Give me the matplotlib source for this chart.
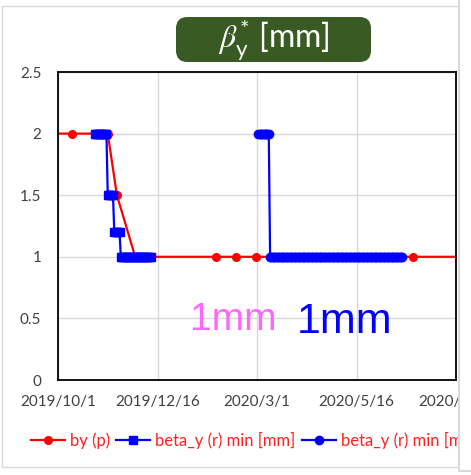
import matplotlib
matplotlib.use('Agg')
import matplotlib.pyplot as plt
from matplotlib.patches import FancyBboxPatch, Rectangle
from matplotlib.lines import Line2D
import pandas as pd

# by (p): planned beta* points
p_dates = ['2019-09-20', '2019-10-12', '2019-11-08', '2019-11-15', '2019-11-29',
           '2020-01-30', '2020-02-14', '2020-02-29', '2020-06-28', '2020-08-10']
p_values = [2, 2, 2, 1.5, 1, 1, 1, 1, 1, 1]

# beta_y (r) min, first run: daily values held constant between start/end dates
r1_starts = ['2019-10-29', '2019-11-08', '2019-11-13', '2019-11-18']
r1_ends = ['2019-11-07', '2019-11-12', '2019-11-17', '2019-12-11']
r1_levels = [2, 1.5, 1.2, 1]

# beta_y (r) min, second run
r2_starts = ['2020-03-02', '2020-03-11']
r2_ends = ['2020-03-10', '2020-06-20']
r2_levels = [2, 1]

tick_dates = ['2019-10-01', '2019-12-16', '2020-03-01', '2020-05-16', '2020-07-31']
tick_labels = ['2019/10/1', '2019/12/16', '2020/3/1', '2020/5/16', '2020/7/31']
y_ticks = [0, 0.5, 1, 1.5, 2, 2.5]
y_labels = ['0', '0.5', '1', '1.5', '2', '2.5']


def daily(starts, ends, levels):
    dates, vals = [], []
    for s, e, v in zip(starts, ends, levels):
        d = pd.date_range(s, e, freq='D')
        dates.extend(d)
        vals.extend([v] * len(d))
    return dates, vals


plt.rcParams['font.family'] = ['Lato', 'DejaVu Sans']
plt.rcParams['mathtext.fontset'] = 'custom'
plt.rcParams['mathtext.it'] = 'STIXGeneral:italic'
plt.rcParams['mathtext.rm'] = 'Lato'
plt.rcParams['mathtext.sf'] = 'Lato'

W, H = 471, 475
fig = plt.figure(figsize=(W / 100, H / 100), dpi=100)
ax = fig.add_axes([58 / W, 1 - 380 / H, 398 / W, 308 / H])

ax.plot(pd.to_datetime(p_dates), p_values, color='#FF0000', lw=1.6,
        marker='o', ms=5.5, label='by (p)', zorder=3)
d1, v1 = daily(r1_starts, r1_ends, r1_levels)
ax.plot(d1, v1, color='#0000FF', lw=1.6, marker='s', ms=6,
        label='beta_y (r) min [mm]', zorder=4)
d2, v2 = daily(r2_starts, r2_ends, r2_levels)
ax.plot(d2, v2, color='#0000FF', lw=1.6, marker='o', ms=6,
        label='beta_y (r) min [mm]', zorder=5)

ax.set_xlim(pd.Timestamp(tick_dates[0]), pd.Timestamp(tick_dates[-1]))
ax.set_ylim(0, 2.5)
ax.set_xticks(pd.to_datetime(tick_dates))
ax.set_xticklabels(tick_labels)
ax.set_yticks(y_ticks)
ax.set_yticklabels(y_labels)
ax.tick_params(axis='both', length=0, labelsize=11, labelcolor='#404040')
ax.tick_params(axis='y', pad=12)
ax.tick_params(axis='x', pad=11)
ax.grid(True, color='#D9D9D9', lw=1)
ax.set_axisbelow(True)
for sp in ax.spines.values():
    sp.set_color('black')
    sp.set_linewidth(1.3)
    sp.set_zorder(6)

ax.text(0.44, 0.162, '1mm', transform=ax.transAxes, ha='center', va='baseline',
        fontsize=28, color='#FF66FF', family='Liberation Sans')
ax.text(0.721, 0.153, '1mm', transform=ax.transAxes, ha='center', va='baseline',
        fontsize=31, color='#0000FF', family='Liberation Sans')

# title badge
badge = FancyBboxPatch((176 / W, 1 - 62 / H), 195 / W, 45 / H,
                       boxstyle='round,pad=0,rounding_size=0.024',
                       transform=fig.transFigure, facecolor='#3A5A24',
                       edgecolor='none', zorder=2)
fig.patches.append(badge)
fig.text(274 / W, 1 - 40 / H, r'$\beta_{\mathrm{y}}^{*}$ [mm]', color='white',
         fontsize=23, ha='center', va='center', zorder=3)

leg = fig.legend(loc='center left', bbox_to_anchor=(31 / W, 1 - 440 / H),
                 ncol=3, frameon=False, fontsize=12, handlelength=2.05,
                 handletextpad=0.3, columnspacing=0.36, borderpad=0,
                 borderaxespad=0)
for t in leg.get_texts():
    t.set_color('#FF2020')

# chart area border, cut off on the right
fig.add_artist(Line2D([2 / W, 2 / W, 459 / W], [1 - 467 / H, 1 - 6 / H, 1 - 6 / H],
                      transform=fig.transFigure, color='#D9D9D9', lw=1))
fig.add_artist(Line2D([2 / W, 459 / W], [1 - 467 / H, 1 - 467 / H],
                      transform=fig.transFigure, color='#D9D9D9', lw=1))
fig.add_artist(Rectangle((459 / W, 0), 12 / W, 1, transform=fig.transFigure,
                         facecolor='white', edgecolor='none', zorder=20))
fig.add_artist(Line2D([459 / W, 459 / W, 1], [1, 1 - 471 / H, 1 - 471 / H],
                      transform=fig.transFigure, color='#D9D9D9', lw=1.5,
                      zorder=21))

fig.savefig('out.png', dpi=100)
